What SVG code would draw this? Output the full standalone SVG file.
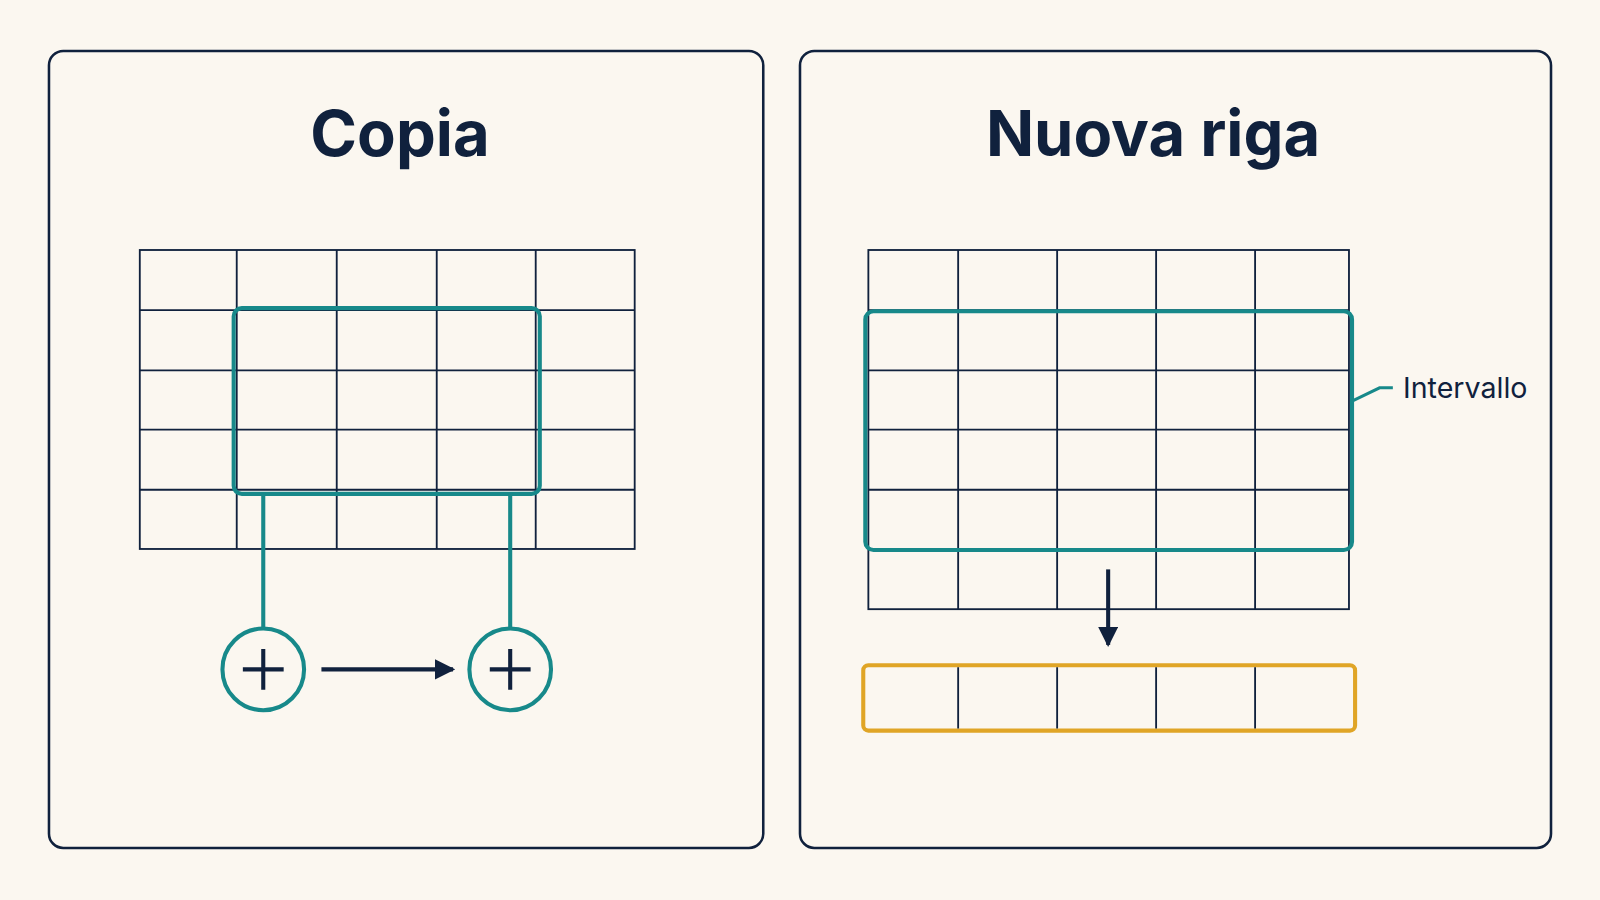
<svg xmlns="http://www.w3.org/2000/svg" width="1600" height="900" viewBox="0 0 1600 900">
<style>
.panel{fill:#fbf7f0;stroke:#10213d;stroke-width:2.5}
.title{font-family:"Inter","Liberation Sans",sans-serif;font-weight:700;font-size:62px;fill:#10213d;text-anchor:middle}
.grid{fill:none;stroke:#10213d;stroke-width:1.8}
.teal{fill:none;stroke:#17898a;stroke-width:4}
.dark{fill:none;stroke:#10213d;stroke-width:4}
.lbl{font-family:"Inter","Liberation Sans",sans-serif;font-size:28px;fill:#10213d}
</style>
<defs>
<marker id="ah" viewBox="0 0 10 10" refX="9" refY="5" markerWidth="5" markerHeight="5" orient="auto"><path d="M0,0L10,5L0,10z" fill="#10213d"/></marker>
</defs>
<rect width="1600" height="900" fill="#fbf7f0"/>
<g transform="scale(1.0204)">
<g id="copia">
<rect class="panel" x="48" y="50" width="700" height="781" rx="14"/>
<text class="title" x="392" y="153">Copia</text>
<rect class="grid" x="137" y="245" width="485" height="293"/>
<path class="grid" d="M232,245V538M330,245V538M428,245V538M525,245V538M137,304H622M137,363H622M137,421H622M137,480H622"/>
<rect class="teal" x="229" y="302" width="300" height="182" rx="8"/>
<circle class="teal" cx="258" cy="656" r="40"/>
<circle class="teal" cx="500" cy="656" r="40"/>
<path class="dark" d="M238,656H278M258,636V676M480,656H520M500,636V676"/>
</g>
<g id="nuova-riga">
<rect class="panel" x="784" y="50" width="736" height="781" rx="14"/>
<text class="title" x="1130" y="153">Nuova riga</text>
<rect class="grid" x="851" y="245" width="471" height="352"/>
<path class="grid" d="M939,245V597M1036,245V597M1133,245V597M1230,245V597M851,304H1322M851,363H1322M851,421H1322M851,480H1322M851,538H1322"/>
<rect class="teal" x="848" y="305" width="477" height="234" rx="8"/>
<rect x="846" y="652" width="482" height="64" rx="5" fill="none" stroke="#e0a526" stroke-width="4"/>
<path class="grid" d="M939,654V714M1036,654V714M1133,654V714M1230,654V714"/>
<text class="lbl" x="1375" y="390">Intervallo</text>
</g>
<g id="connectors">
<path class="teal" d="M258,484V616M500,484V616"/>
<path class="dark" d="M315,656H444" stroke-width="3.5" marker-end="url(#ah)"/>
<path class="dark" d="M1086,558V632" stroke-width="3.5" marker-end="url(#ah)"/>
<path d="M1325,393L1352,380H1365" fill="none" stroke="#17898a" stroke-width="3"/>
</g>
</g>
</svg>
